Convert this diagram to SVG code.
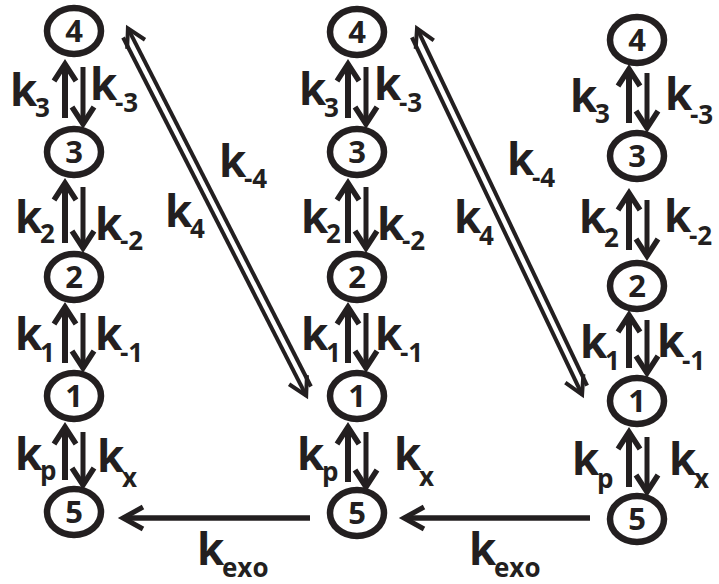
<svg xmlns="http://www.w3.org/2000/svg" width="719" height="584" viewBox="0 0 719 584">
<style>
.n{fill:none;stroke:#231f20;stroke-width:6.5}
.t{font-family:"Open Sans","Liberation Sans",sans-serif;font-weight:700;fill:#231f20}
.d{font-size:31px;text-anchor:middle}
.k{font-size:44px}
.s{font-size:26px}
.up{stroke:#231f20;stroke-width:6;fill:none;marker-end:url(#av)}
.dn{stroke:#231f20;stroke-width:5;fill:none;marker-end:url(#av)}
.hz{stroke:#231f20;stroke-width:5.5;fill:none;marker-end:url(#ah)}
.dg{stroke:#231f20;stroke-width:4;fill:none;marker-end:url(#ad)}
</style>
<defs>
<marker id="av" markerUnits="userSpaceOnUse" markerWidth="40" markerHeight="40" viewBox="-30 -20 40 40" refX="0" refY="0" orient="auto" overflow="visible"><path d="M-17,-11 L0,0 L-17,11" fill="none" stroke="#231f20" stroke-width="5.5"/></marker>
<marker id="ah" markerUnits="userSpaceOnUse" markerWidth="40" markerHeight="40" viewBox="-30 -20 40 40" refX="0" refY="0" orient="auto" overflow="visible"><path d="M-20,-11 L0,0 L-20,11" fill="none" stroke="#231f20" stroke-width="5"/></marker>
<marker id="ad" markerUnits="userSpaceOnUse" markerWidth="40" markerHeight="40" viewBox="-30 -20 40 40" refX="0" refY="0" orient="auto" overflow="visible"><path d="M-18,-10 L0,0 L-18,10" fill="none" stroke="#231f20" stroke-width="4"/></marker>
</defs>

<g id="a4"><ellipse class="n" cx="74" cy="31" rx="27" ry="23"/><text class="t d" x="74" y="42">4</text></g>
<g id="a3"><ellipse class="n" cx="74" cy="152" rx="27" ry="23"/><text class="t d" x="74" y="163">3</text></g>
<g id="a2"><ellipse class="n" cx="74" cy="277" rx="27" ry="23"/><text class="t d" x="74" y="288">2</text></g>
<g id="a1"><ellipse class="n" cx="74" cy="396" rx="27" ry="23"/><text class="t d" x="74" y="407">1</text></g>
<g id="a5"><ellipse class="n" cx="74" cy="512" rx="27" ry="23"/><text class="t d" x="74" y="523">5</text></g>

<g id="b4"><ellipse class="n" cx="357" cy="32" rx="27" ry="23"/><text class="t d" x="357" y="43">4</text></g>
<g id="b3"><ellipse class="n" cx="357" cy="152" rx="27" ry="23"/><text class="t d" x="357" y="163">3</text></g>
<g id="b2"><ellipse class="n" cx="357" cy="277" rx="27" ry="23"/><text class="t d" x="357" y="288">2</text></g>
<g id="b1"><ellipse class="n" cx="357" cy="396" rx="27" ry="23"/><text class="t d" x="357" y="407">1</text></g>
<g id="b5"><ellipse class="n" cx="357" cy="513" rx="27" ry="23"/><text class="t d" x="357" y="524">5</text></g>

<g id="c4"><ellipse class="n" cx="637" cy="40" rx="27" ry="23"/><text class="t d" x="637" y="51">4</text></g>
<g id="c3"><ellipse class="n" cx="637" cy="156" rx="27" ry="23"/><text class="t d" x="637" y="167">3</text></g>
<g id="c2"><ellipse class="n" cx="637" cy="286" rx="27" ry="23"/><text class="t d" x="637" y="297">2</text></g>
<g id="c1"><ellipse class="n" cx="637" cy="401" rx="27" ry="23"/><text class="t d" x="637" y="412">1</text></g>
<g id="c5"><ellipse class="n" cx="637" cy="519" rx="27" ry="23"/><text class="t d" x="637" y="530">5</text></g>

<g id="connectors">
<line class="up" x1="65" y1="118" x2="65" y2="64"/>
<line class="dn" x1="83" y1="67" x2="83" y2="124"/>
<line class="up" x1="65" y1="243" x2="65" y2="183"/>
<line class="dn" x1="83" y1="187" x2="83" y2="248"/>
<line class="up" x1="65" y1="363" x2="65" y2="307"/>
<line class="dn" x1="83" y1="313" x2="83" y2="368"/>
<line class="up" x1="65" y1="480" x2="65" y2="427"/>
<line class="dn" x1="83" y1="432" x2="83" y2="485"/>

<line class="up" x1="348" y1="118" x2="348" y2="64"/>
<line class="dn" x1="366" y1="67" x2="366" y2="124"/>
<line class="up" x1="348" y1="243" x2="348" y2="183"/>
<line class="dn" x1="366" y1="187" x2="366" y2="248"/>
<line class="up" x1="348" y1="363" x2="348" y2="307"/>
<line class="dn" x1="366" y1="313" x2="366" y2="368"/>
<line class="up" x1="348" y1="482" x2="348" y2="427"/>
<line class="dn" x1="366" y1="432" x2="366" y2="487"/>

<line class="up" x1="629" y1="123" x2="629" y2="69"/>
<line class="dn" x1="647" y1="73" x2="647" y2="128"/>
<line class="up" x1="629" y1="250" x2="629" y2="193"/>
<line class="dn" x1="647" y1="200" x2="647" y2="256"/>
<line class="up" x1="629" y1="368" x2="629" y2="315"/>
<line class="dn" x1="647" y1="320" x2="647" y2="373"/>
<line class="up" x1="629" y1="487" x2="629" y2="432"/>
<line class="dn" x1="647" y1="437" x2="647" y2="492"/>

<line class="hz" x1="310" y1="518" x2="123" y2="518"/>
<line class="hz" x1="590" y1="518" x2="404" y2="518"/>

<line class="dg" x1="123.1" y1="37.5" x2="306.2" y2="395.7"/>
<line class="dg" x1="310.9" y1="386.5" x2="127.9" y2="28.3"/>
<line class="dg" x1="411.9" y1="37.4" x2="582.1" y2="394.6"/>
<line class="dg" x1="587.1" y1="385.6" x2="417.0" y2="28.4"/>
</g>

<g id="labels" class="t k">
<text x="10" y="106">k<tspan class="s" x="35" y="117">3</tspan></text>
<text x="90" y="100">k<tspan class="s" x="115" y="112">-3</tspan></text>
<text x="15" y="233">k<tspan class="s" x="40" y="243">2</tspan></text>
<text x="95" y="240">k<tspan class="s" x="120" y="250">-2</tspan></text>
<text x="15" y="350">k<tspan class="s" x="40" y="362">1</tspan></text>
<text x="95" y="350">k<tspan class="s" x="120" y="362">-1</tspan></text>
<text x="15" y="470">k<tspan class="s" x="40" y="480">p</tspan></text>
<text x="97" y="472">k<tspan class="s" x="122" y="487">x</tspan></text>

<text x="299" y="105">k<tspan class="s" x="324" y="117">3</tspan></text>
<text x="374" y="100">k<tspan class="s" x="399" y="112">-3</tspan></text>
<text x="301" y="233">k<tspan class="s" x="326" y="243">2</tspan></text>
<text x="377" y="240">k<tspan class="s" x="402" y="250">-2</tspan></text>
<text x="301" y="350">k<tspan class="s" x="326" y="362">1</tspan></text>
<text x="375" y="350">k<tspan class="s" x="400" y="362">-1</tspan></text>
<text x="297" y="470">k<tspan class="s" x="322" y="481">p</tspan></text>
<text x="394" y="470">k<tspan class="s" x="419" y="486">x</tspan></text>

<text x="570" y="112">k<tspan class="s" x="595" y="123">3</tspan></text>
<text x="665" y="110">k<tspan class="s" x="690" y="124">-3</tspan></text>
<text x="579" y="233">k<tspan class="s" x="604" y="247">2</tspan></text>
<text x="664" y="232">k<tspan class="s" x="689" y="245">-2</tspan></text>
<text x="580" y="358">k<tspan class="s" x="605" y="370">1</tspan></text>
<text x="657" y="357">k<tspan class="s" x="682" y="370">-1</tspan></text>
<text x="572" y="475">k<tspan class="s" x="597" y="488">p</tspan></text>
<text x="669" y="475">k<tspan class="s" x="694" y="488">x</tspan></text>

<text x="219" y="177">k<tspan class="s" x="244" y="188">-4</tspan></text>
<text x="165" y="227">k<tspan class="s" x="190" y="238">4</tspan></text>
<text x="507" y="175">k<tspan class="s" x="532" y="187">-4</tspan></text>
<text x="454" y="233">k<tspan class="s" x="479" y="245">4</tspan></text>

<text x="197" y="565">k<tspan class="s" x="222" y="577">exo</tspan></text>
<text x="469" y="565">k<tspan class="s" x="494" y="577">exo</tspan></text>
</g>
</svg>
